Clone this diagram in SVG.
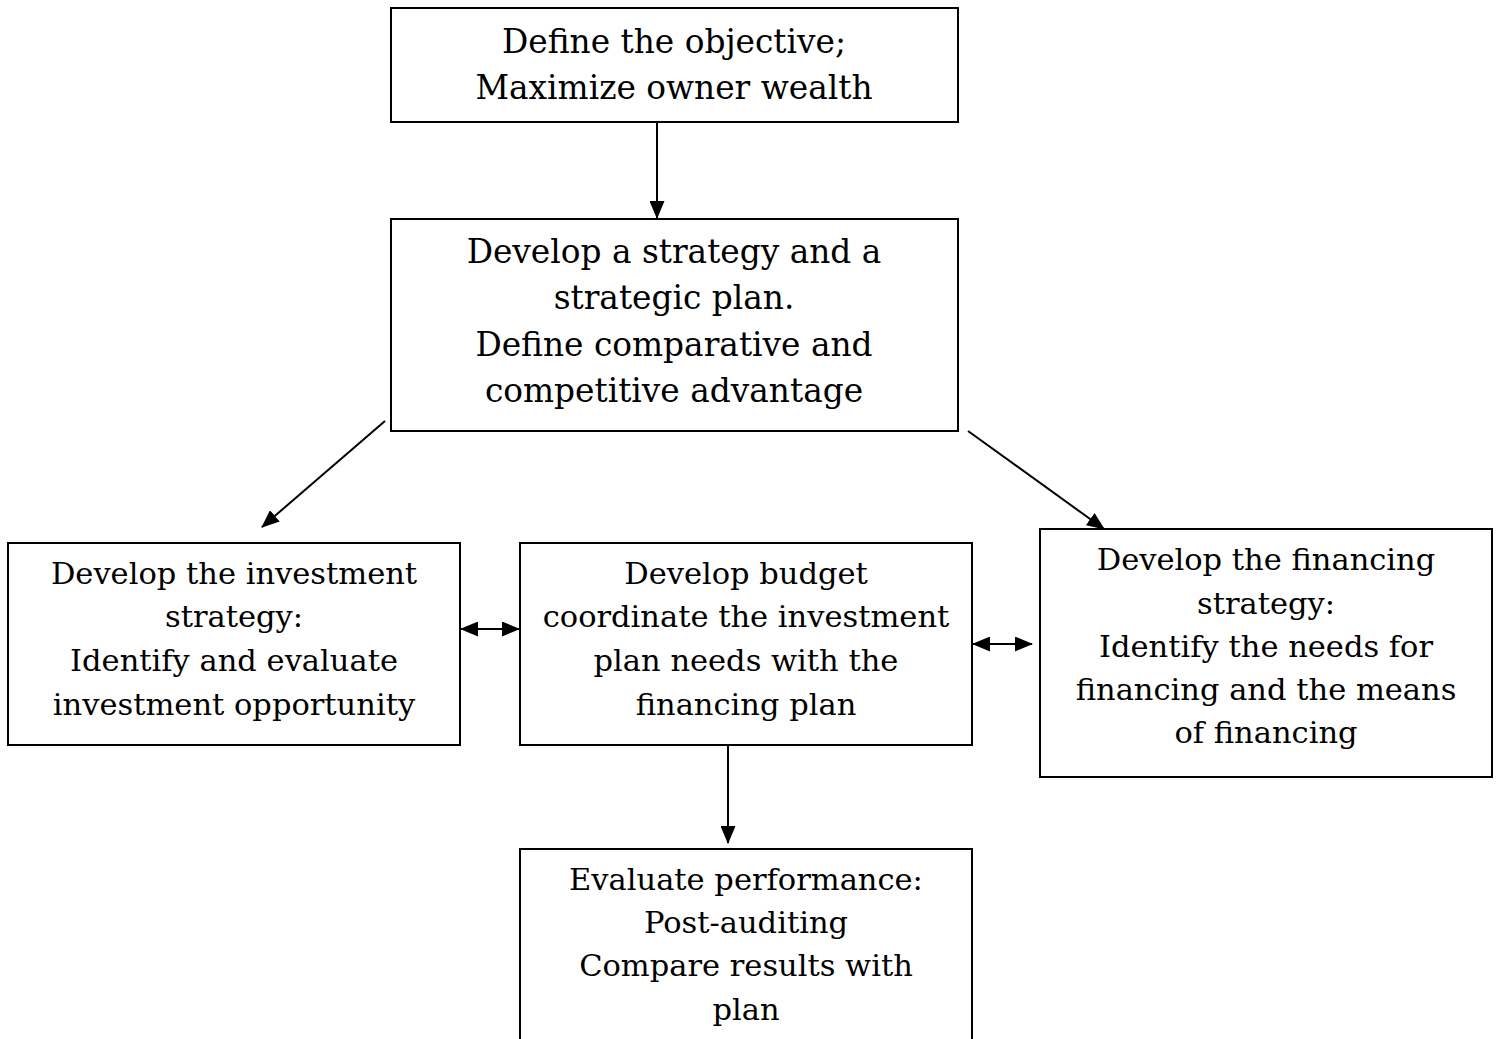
<svg xmlns="http://www.w3.org/2000/svg" width="1497" height="1039" viewBox="0 0 1497 1039">
<style>
.box{fill:#fff;stroke:#000;stroke-width:2}
.t{font-family:"DejaVu Serif","Liberation Serif",serif;fill:#000;text-anchor:middle}
.big{font-size:32.8px}
.sm{font-size:30.5px}
.c{stroke:#000;stroke-width:2;fill:none}
</style>
<defs>
<marker id="ah" markerUnits="userSpaceOnUse" markerWidth="18" markerHeight="15" refX="17" refY="7.5" orient="auto-start-reverse" viewBox="0 0 18 15">
<path d="M0,0 L18,7.5 L0,15 Z" fill="#000"/>
</marker>
</defs>
<rect width="1497" height="1039" fill="#fff"/>
<g id="n1">
<rect class="box" x="391" y="8" width="567" height="114"/>
<text class="t big" x="674" y="53">Define the objective;</text>
<text class="t big" x="674" y="99">Maximize owner wealth</text>
</g>
<g id="n2">
<rect class="box" x="391" y="219" width="567" height="212"/>
<text class="t big" x="674" y="263">Develop a strategy and a</text>
<text class="t big" x="674" y="309">strategic plan.</text>
<text class="t big" x="674" y="356">Define comparative and</text>
<text class="t big" x="674" y="402">competitive advantage</text>
</g>
<g id="n3">
<rect class="box" x="8" y="543" width="452" height="202"/>
<text class="t sm" x="234" y="584">Develop the investment</text>
<text class="t sm" x="234" y="627">strategy:</text>
<text class="t sm" x="234" y="671">Identify and evaluate</text>
<text class="t sm" x="234" y="715">investment opportunity</text>
</g>
<g id="n4">
<rect class="box" x="520" y="543" width="452" height="202"/>
<text class="t sm" x="746" y="584">Develop budget</text>
<text class="t sm" x="746" y="627">coordinate the investment</text>
<text class="t sm" x="746" y="671">plan needs with the</text>
<text class="t sm" x="746" y="715">financing plan</text>
</g>
<g id="n5">
<rect class="box" x="1040" y="529" width="452" height="248"/>
<text class="t sm" x="1266" y="570">Develop the financing</text>
<text class="t sm" x="1266" y="614">strategy:</text>
<text class="t sm" x="1266" y="657">Identify the needs for</text>
<text class="t sm" x="1266" y="700">financing and the means</text>
<text class="t sm" x="1266" y="743">of financing</text>
</g>
<g id="n6">
<rect class="box" x="520" y="849" width="452" height="220"/>
<text class="t sm" x="746" y="890">Evaluate performance:</text>
<text class="t sm" x="746" y="933">Post-auditing</text>
<text class="t sm" x="746" y="976">Compare results with</text>
<text class="t sm" x="746" y="1020">plan</text>
</g>
<g id="connectors">
<line class="c" x1="657" y1="122" x2="657" y2="218" marker-end="url(#ah)"/>
<line class="c" x1="385" y1="421" x2="262" y2="527" marker-end="url(#ah)"/>
<line class="c" x1="968" y1="431" x2="1104" y2="529" marker-end="url(#ah)"/>
<line class="c" x1="461" y1="629" x2="519" y2="629" marker-start="url(#ah)" marker-end="url(#ah)"/>
<line class="c" x1="973" y1="644" x2="1032" y2="644" marker-start="url(#ah)" marker-end="url(#ah)"/>
<line class="c" x1="728" y1="745" x2="728" y2="843" marker-end="url(#ah)"/>
</g>
</svg>
